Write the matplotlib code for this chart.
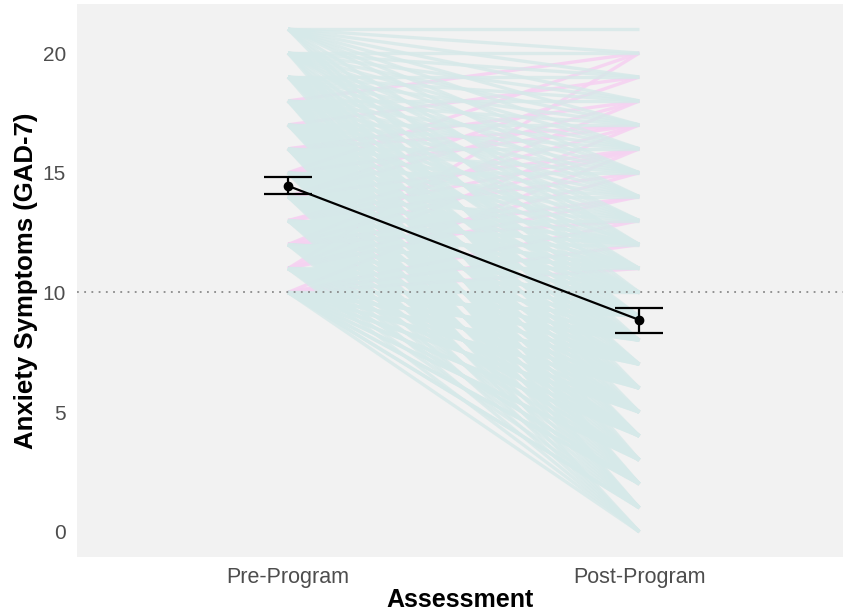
import matplotlib
matplotlib.use("Agg")
import matplotlib.pyplot as plt

# individual participants, GAD-7 pre and post (one line per participant)
pre_scores = (
    [21] * 12 + [20] * 14 + [19] * 16 + [18] * 18 + [17] * 20 + [16] * 22
    + [15] * 24 + [14] * 24 + [13] * 24 + [12] * 22 + [11] * 20 + [10] * 20
    + [10, 11, 12, 11, 13, 12, 14, 15, 13, 16, 10, 17, 12, 14, 11, 10, 12, 13,
       15, 18, 16, 11, 10, 14]
)
post_scores = (
    [21, 20, 19, 18, 17, 16, 15, 14, 12, 10, 8, 6]
    + [20, 19, 18, 17, 16, 15, 14, 13, 12, 11, 9, 7, 5, 3]
    + [19, 18, 17, 16, 15, 14, 13, 12, 11, 10, 9, 8, 7, 6, 4, 2]
    + [18, 17, 16, 15, 14, 13, 12, 11, 10, 9, 8, 7, 6, 5, 4, 3, 2, 1]
    + [17, 16, 15, 14, 13, 12, 12, 11, 10, 10, 9, 8, 8, 7, 6, 5, 4, 3, 2, 1]
    + [16, 15, 14, 13, 12, 11, 11, 10, 10, 9, 9, 8, 8, 7, 6, 6, 5, 4, 3, 2, 1, 0]
    + [15, 14, 13, 12, 12, 11, 11, 10, 10, 9, 9, 8, 8, 7, 7, 6, 6, 5, 5, 4, 3, 2, 1, 0]
    + [14, 13, 12, 12, 11, 11, 10, 10, 9, 9, 8, 8, 7, 7, 6, 6, 5, 5, 4, 4, 3, 2, 1, 0]
    + [13, 12, 12, 11, 11, 10, 10, 9, 9, 8, 8, 7, 7, 6, 6, 5, 5, 4, 4, 3, 3, 2, 1, 0]
    + [12, 11, 11, 10, 10, 9, 9, 8, 8, 7, 7, 6, 6, 5, 5, 4, 4, 3, 3, 2, 1, 0]
    + [11, 10, 10, 9, 9, 8, 8, 7, 7, 6, 6, 5, 5, 4, 4, 3, 2, 2, 1, 0]
    + [10, 9, 9, 8, 8, 7, 7, 6, 6, 5, 5, 4, 4, 3, 3, 2, 2, 1, 1, 0]
    + [12, 20, 18, 15, 17, 14, 19, 20, 16, 18, 13, 19, 16, 16, 17, 11, 13, 15,
       17, 20, 17, 14, 16, 18]
)

timepoints = ["Pre-Program", "Post-Program"]
group_means = [14.45, 8.85]
err_low = [14.11, 8.31]
err_high = [14.82, 9.35]
cutoff = 10

fig = plt.figure(figsize=(8.43, 6.14), dpi=100)
fig.patch.set_facecolor("white")
ax = fig.add_axes([0.0913, 0.093, 0.9087, 0.9005])
ax.set_facecolor("#f2f2f2")

xs = [1, 2]
# worsened participants (pink) underneath, improved / unchanged (teal) on top
for a, b in zip(pre_scores, post_scores):
    if b > a:
        ax.plot(xs, [a, b], color="#f6d2f1", lw=2.4, alpha=0.9,
                solid_capstyle="butt", zorder=1)
for a, b in zip(pre_scores, post_scores):
    if b <= a:
        ax.plot(xs, [a, b], color="#d6e9e9", lw=2.4, alpha=0.8,
                solid_capstyle="butt", zorder=2)

ax.axhline(cutoff, color="#8a8a8a", lw=1.3, ls=(0, (1, 3)), zorder=3)

yerr = [[m - lo for m, lo in zip(group_means, err_low)],
        [hi - m for m, hi in zip(group_means, err_high)]]
ax.plot(xs, group_means, color="black", lw=1.6, zorder=4)
ax.errorbar(xs, group_means, yerr=yerr, fmt="o", color="black", ms=6,
            elinewidth=1.6, capsize=17, capthick=1.6, zorder=5)

ax.set_xlim(0.399, 2.58)
ax.set_ylim(-1.05, 22.05)
ax.set_xticks(xs)
ax.set_xticklabels(timepoints)
ax.set_yticks([0, 5, 10, 15, 20])
ax.tick_params(length=0, labelcolor="#4d4d4d")
ax.tick_params(axis="x", labelsize=15.5, pad=7)
ax.tick_params(axis="y", labelsize=15, pad=8)
for lbl in ax.get_xticklabels() + ax.get_yticklabels():
    lbl.set_family("Liberation Sans")
for s in ax.spines.values():
    s.set_visible(False)

ax.set_xlabel("Assessment", fontsize=18, fontweight="bold",
              family="Liberation Sans", labelpad=0)
ax.set_ylabel("Anxiety Symptoms (GAD-7)", fontsize=18.5, fontweight="bold",
              family="Liberation Sans", labelpad=3)

fig.savefig("out.png", dpi=100)
